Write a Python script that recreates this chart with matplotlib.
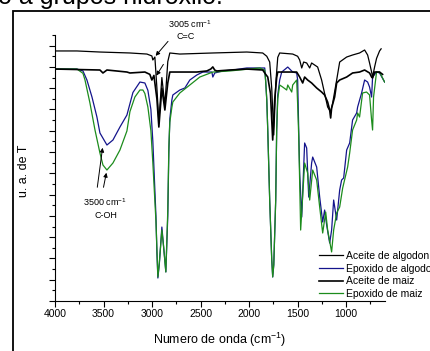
import matplotlib
matplotlib.use('Agg')
import matplotlib.pyplot as plt
from matplotlib.patches import Rectangle
from matplotlib.ticker import MultipleLocator

plt.rcParams['font.family'] = ['Liberation Sans', 'DejaVu Sans']
plt.rcParams['mathtext.default'] = 'regular'

# Aceite de algodon (upper black trace)
w_ac_alg = [4000, 3774, 3537, 3228, 3053, 3002, 2992, 2971, 2950, 2930, 2899, 2868,
            2838, 2817, 2714, 2374, 2024, 1860, 1818, 1788, 1767, 1746, 1725, 1705,
            1685, 1551, 1500, 1479, 1458, 1438, 1407, 1376, 1356, 1325, 1294, 1253,
            1191, 1160, 1139, 1098, 1067, 995, 934, 862, 810, 779, 759, 738, 728,
            707, 687, 656, 640]
t_ac_alg = [23.50, 23.50, 23.40, 23.31, 23.21, 23.03, 22.65, 22.93, 20.0, 16.82, 21.0, 18.42,
            22.5, 23.31, 23.21, 23.31, 23.40, 23.31, 23.0, 22.46, 20.0, 15.60, 20.5, 22.9,
            23.31, 23.21, 23.0, 22.65, 21.90, 22.46, 22.37, 21.90, 22.37, 22.18, 21.99, 20.77,
            18.23, 17.76, 18.61, 20.77, 22.46, 22.93, 23.12, 23.31, 23.59, 23.12, 22.37, 21.52, 21.05,
            22.0, 22.8, 23.5, 23.7]

# Aceite de maiz (lower black trace)
w_ac_maiz = [4000, 3537, 3506, 3465, 3259, 3228, 3074, 3023, 3002, 2981, 2950, 2930,
             2899, 2868, 2838, 2817, 2714, 2539, 2436, 2395, 2374, 2354, 2333, 2199,
             2024, 1860, 1829, 1808, 1780, 1757, 1736, 1716, 1705, 1510, 1479, 1448,
             1428, 1397, 1356, 1304, 1253, 1222, 1191, 1170, 1160, 1150, 1119, 1098,
             1067, 995, 934, 862, 810, 759, 738, 728, 707, 656, 625]
t_ac_maiz = [21.80, 21.71, 21.43, 21.71, 21.52, 21.43, 21.52, 21.3, 20.77, 21.2, 19.0, 16.35,
             20.0, 17.95, 20.5, 21.52, 21.52, 21.52, 21.62, 21.8, 22.0, 21.7, 21.62, 21.71,
             21.80, 21.71, 21.3, 21.05, 19.5, 15.13, 19.0, 21.0, 21.52, 21.52, 21.05, 20.49,
             21.05, 20.77, 20.49, 20.02, 19.64, 19.36, 18.70, 17.95, 17.20, 18.14, 19.17, 20.49,
             20.77, 21.05, 21.43, 21.52, 21.71, 21.43, 21.05, 20.96, 21.52, 21.52, 21.3]

# Epoxido de algodon (blue)
w_ep_alg = [4000, 3774, 3712, 3671, 3619, 3568, 3537, 3465, 3403, 3331, 3259, 3197,
            3125, 3074, 3043, 3012, 2992, 2960, 2950, 2940, 2925, 2899, 2880, 2858,
            2838, 2827, 2817, 2796, 2786, 2714, 2662, 2611, 2539, 2477, 2384, 2374,
            2354, 2271, 2168, 2024, 1891, 1839, 1829, 1818, 1808, 1788, 1767, 1757,
            1746, 1726, 1716, 1705, 1685, 1664, 1602, 1551, 1510, 1500, 1489, 1479,
            1458, 1428, 1407, 1386, 1356, 1345, 1304, 1273, 1242, 1222, 1201, 1170,
            1150, 1129, 1098, 1067, 1047, 1026, 995, 964, 934, 892, 882, 841, 810,
            779, 759, 738, 728, 687, 656, 604]
t_ep_alg = [21.80, 21.80, 21.62, 20.77, 19.17, 17.29, 15.79, 14.66, 15.13, 16.35, 17.48, 19.6,
            20.58, 20.49, 19.8, 18.0, 15.0, 8.0, 4.5, 2.16, 3.5, 6.95, 5.0, 2.73,
            8.0, 14.0, 17.1, 18.89, 19.36, 19.83, 20.02, 20.77, 21.24, 21.52, 21.52, 21.05,
            21.43, 21.62, 21.71, 21.90, 21.90, 21.90, 20.58, 18.89, 16.07, 9.49, 3.9, 2.26,
            3.4, 9.49, 16.07, 19.36, 20.77, 21.52, 21.99, 21.52, 21.43, 20.77, 16.07, 12.0,
            7.89, 14.85, 14.38, 9.77, 12.97, 13.53, 12.59, 9.77, 7.42, 8.55, 7.14, 5.45,
            6.67, 9.49, 7.61, 10.43, 11.37, 11.56, 14.19, 14.85, 17.01, 17.67, 18.23, 19.55, 20.77,
            20.58, 20.11, 19.17, 21.05, 21.52, 21.43, 20.58]

# Epoxido de maiz (green)
w_ep_maiz = [4000, 3774, 3712, 3691, 3640, 3588, 3537, 3506, 3465, 3403, 3331, 3259,
             3228, 3177, 3125, 3094, 3074, 3043, 3012, 2992, 2960, 2940, 2925, 2899,
             2880, 2858, 2838, 2827, 2817, 2796, 2786, 2714, 2611, 2508, 2374, 2199,
             1891, 1839, 1829, 1818, 1808, 1788, 1767, 1757, 1746, 1726, 1716, 1705,
             1685, 1654, 1613, 1602, 1561, 1551, 1510, 1500, 1489, 1469, 1428, 1397,
             1376, 1345, 1304, 1273, 1242, 1211, 1191, 1150, 1129, 1098, 1067, 1036,
             985, 964, 934, 892, 882, 862, 831, 790, 759, 738, 728, 718, 687, 656, 604]
t_ep_maiz = [21.80, 21.80, 21.4, 20.77, 18.61, 16.07, 13.91, 12.78, 12.31, 12.97, 14.19, 15.98,
             17.8, 19.17, 19.83, 19.83, 19.5, 18.23, 16.0, 13.0, 7.5, 2.26, 3.6, 6.67,
             5.0, 2.73, 8.5, 14.5, 16.8, 18.2, 18.7, 19.55, 20.30, 21.05, 21.52, 21.62,
             21.90, 21.7, 20.6, 18.89, 16.07, 9.49, 3.9, 2.26, 3.4, 9.49, 16.07, 19.0,
             20.3, 20.11, 19.83, 20.30, 19.64, 20.30, 20.77, 18.5, 15.5, 6.67, 12.97, 12.03,
             9.49, 12.31, 11.37, 8.83, 6.39, 8.36, 6.67, 4.61, 6.67, 8.27, 8.83, 10.62,
             12.59, 13.91, 16.07, 17.01, 17.67, 17.29, 19.55, 19.64, 19.36, 17.0, 16.07, 19.17,
             21.52, 21.52, 20.58]

fig = plt.figure(figsize=(4.30, 3.51), dpi=100)
ax = fig.add_axes([55 / 430, 50 / 351, 330 / 430, 266 / 351])

ax.plot(w_ac_alg, t_ac_alg, color='black', lw=0.9, label='Aceite de algodon', zorder=3)
ax.plot(w_ep_alg, t_ep_alg, color='#14148c', lw=0.9, label='Epoxido de algodon', zorder=2)
ax.plot(w_ac_maiz, t_ac_maiz, color='black', lw=1.2, label='Aceite de maiz', zorder=4)
ax.plot(w_ep_maiz, t_ep_maiz, color='#1c8c1c', lw=0.9, label='Epoxido de maiz', zorder=2.5)

ax.set_xlim(4000, 600)
ax.set_ylim(0, 25)
ax.xaxis.set_major_locator(MultipleLocator(500))
ax.xaxis.set_minor_locator(MultipleLocator(250))
ax.yaxis.set_major_locator(MultipleLocator(2))
ax.yaxis.set_minor_locator(MultipleLocator(1))
ax.set_yticklabels([])
ax.tick_params(which='major', direction='out', length=4, width=0.8, labelsize=7.5, pad=2)
ax.tick_params(which='minor', direction='out', length=2.5, width=0.8)
ax.spines['top'].set_visible(False)
ax.spines['right'].set_visible(False)

ax.set_xlabel('Numero de onda (cm$^{-1}$)', fontsize=9, labelpad=8)
ax.set_ylabel('u. a. de T', fontsize=9)
ax.yaxis.set_label_coords(-0.075, 0.49)

# annotations
arr = dict(arrowstyle='-|>', color='black', lw=0.7, mutation_scale=6)
ax.annotate('', xy=(2982, 22.84), xytext=(2817, 24.6), arrowprops=arr, annotation_clip=False)
ax.annotate('', xy=(2971, 20.96), xytext=(2868, 22.46), arrowprops=arr, annotation_clip=False)
ax.text(2611, 26.0, '3005 cm$^{-1}$', fontsize=6.5, ha='center', va='center')
ax.text(2652, 24.9, 'C=C', fontsize=6.5, ha='center', va='center')

ax.annotate('', xy=(3506, 14.66), xytext=(3568, 10.43), arrowprops=arr)
ax.annotate('', xy=(3465, 12.31), xytext=(3506, 10.43), arrowprops=arr)
ax.text(3485, 9.3, '3500 cm$^{-1}$', fontsize=6.5, ha='center', va='center')
ax.text(3475, 7.99, 'C-OH', fontsize=6.5, ha='center', va='center')

ax.legend(loc='upper left', bbox_to_anchor=(319 / 430, 1 - 251 / 351),
          bbox_transform=fig.transFigure, frameon=False, fontsize=7.5,
          handlelength=2.3, handletextpad=0.3, labelspacing=0.25, borderpad=0,
          borderaxespad=0)

# slide frame and clipped heading
fig.patches.append(Rectangle((12.5 / 430, -0.1), 1.2, 1 - 11 / 351 + 0.1,
                             transform=fig.transFigure, fill=False, lw=1.3,
                             edgecolor='black'))
fig.text(-0.005, 1 - 4 / 351, 'o a grupos hidroxilo.', fontsize=18,
         ha='left', va='baseline')

fig.savefig('out.png', dpi=100)
